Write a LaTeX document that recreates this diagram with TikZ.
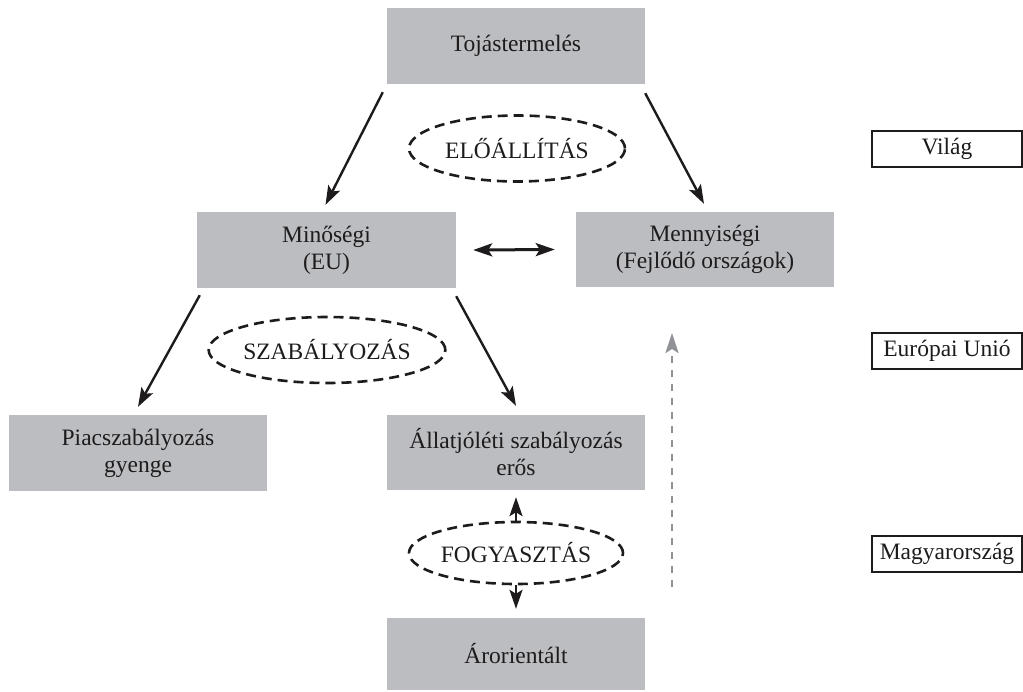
\documentclass[tikz,border=0pt]{standalone}
\usepackage{fontspec}
\setmainfont{Liberation Serif}
\usetikzlibrary{arrows.meta,shapes.geometric}
\definecolor{boxgray}{RGB}{188,189,192}
\definecolor{ink}{RGB}{30,27,28}
\definecolor{dashgray}{RGB}{145,146,150}
\begin{document}
\begin{tikzpicture}[x=1pt,y=-1pt,
  font=\fontsize{23.5}{27}\selectfont, text=ink,
  gbox/.style={fill=boxgray, draw=none, minimum width=258pt, minimum height=76pt, align=center, inner sep=0pt},
  lbox/.style={draw=ink, line width=2pt, fill=white, minimum width=150pt, minimum height=36pt, inner sep=0pt},
  dell/.style={ellipse, draw=ink, line width=2.6pt, dash pattern=on 10pt off 6pt, minimum width=214pt, minimum height=64pt, inner sep=0pt},
  arr/.style={draw=ink, line width=2.4pt, -{Stealth[length=19pt,width=13pt,inset=4pt]}},
  darr/.style={draw=ink, line width=3pt, {Stealth[length=19pt,width=13pt,inset=4pt]}-{Stealth[length=19pt,width=13pt,inset=4pt]}},
  garr/.style={draw=dashgray, line width=2.6pt, dash pattern=on 7pt off 7pt, -{Stealth[length=20pt,width=13pt,inset=4pt,fill=dashgray]}}
]
\useasboundingbox (0,0) rectangle (1023,691);

\node[gbox] (toj) at (516,46) {Tojástermelés};
\node[gbox, minimum width=259pt] (min) at (326.5,250) {Minőségi\\(EU)};
\node[gbox, minimum height=75pt] (men) at (705,249.5) {Mennyiségi\\(Fejlődő országok)};
\node[gbox] (piac) at (138,453) {Piacszabályozás\\gyenge};
\node[gbox, minimum height=75pt] (allat) at (516,452.5) {Állatjóléti szabályozás\\erős};
\node[gbox, minimum height=72pt] (aror) at (516,654) {Árorientált};

\node[dell, minimum width=216pt, minimum height=66pt] (eloall) at (517,148.5) {ELŐÁLLÍTÁS};
\node[dell, minimum height=66pt] (szab) at (327,350) {SZABÁLYOZÁS};
\node[dell, minimum height=62pt] (fogy) at (516,553) {FOGYASZTÁS};

\node[lbox] (vilag) at (947,149) {Világ};
\node[lbox] (eu) at (947,351) {Európai Unió};
\node[lbox] (hu) at (947,554) {Magyarország};

\draw[arr] ([shift={(-4,8)}]toj.south west) -- ([shift={(-1,-7)}]min.north);
\draw[arr] ([shift={(0,9)}]toj.south east) -- ([shift={(-1,-8)}]men.north);
\draw[darr] ([shift={(17,0)}]min.east) -- ([shift={(-21,0)}]men.west);
\draw[arr] ([shift={(3,7)}]min.south west) -- ([shift={(0,-8)}]piac.north);
\draw[arr] ([shift={(0,8)}]min.south east) -- ([shift={(0,-9)}]allat.north);
\draw[arr] (fogy.north) -- ([shift={(0,7)}]allat.south);
\draw[arr] (fogy.south) -- ([shift={(0,-9)}]aror.north);

\coordinate (gstart) at (672,587);
\coordinate (gend) at (672,333);
\draw[garr] (gstart) -- (gend);
\end{tikzpicture}
\end{document}
